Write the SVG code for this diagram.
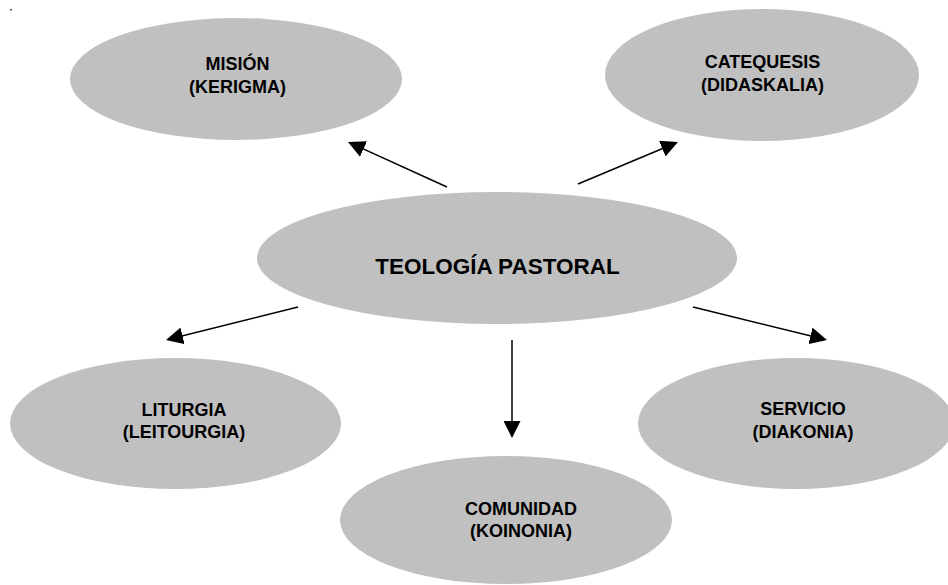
<svg xmlns="http://www.w3.org/2000/svg" width="948" height="585" viewBox="0 0 948 585">
<style>
.node ellipse{fill:#c0c0c0;stroke:none}
text{font-family:"Liberation Sans",Arial,sans-serif;font-weight:bold;fill:#000;text-anchor:middle}
.t{font-size:18px}
.tc{font-size:22.5px}
.conn path{stroke:#000;stroke-width:1.5;fill:none;marker-end:url(#ah)}
</style>
<defs>
<marker id="ah" viewBox="0 0 17 17" refX="10" refY="8.5" markerWidth="17" markerHeight="17" markerUnits="userSpaceOnUse" orient="auto">
<path d="M0,0 L17,8.5 L0,17 z" fill="#000"/>
</marker>
</defs>
<rect width="948" height="585" fill="#fff"/>
<rect x="10" y="9" width="2" height="1.5" fill="#555"/>
<g id="mision" class="node">
<ellipse cx="236" cy="79" rx="166" ry="61"/>
<text class="t" x="237.5" y="70">MISIÓN</text>
<text class="t" x="237.5" y="92.5">(KERIGMA)</text>
</g>
<g id="catequesis" class="node">
<ellipse cx="762" cy="75" rx="157" ry="66"/>
<text class="t" x="762.5" y="68">CATEQUESIS</text>
<text class="t" x="762.5" y="91">(DIDASKALIA)</text>
</g>
<g id="teologia" class="node">
<ellipse cx="497" cy="258" rx="240" ry="66"/>
<text class="tc" x="497.5" y="274">TEOLOGÍA PASTORAL</text>
</g>
<g id="liturgia" class="node">
<ellipse cx="175.5" cy="423.5" rx="165.5" ry="65.5"/>
<text class="t" x="184" y="416">LITURGIA</text>
<text class="t" x="184" y="438">(LEITOURGIA)</text>
</g>
<g id="servicio" class="node">
<ellipse cx="796" cy="423.5" rx="158" ry="65.5"/>
<text class="t" x="803" y="415">SERVICIO</text>
<text class="t" x="803" y="438">(DIAKONIA)</text>
</g>
<g id="comunidad" class="node">
<ellipse cx="506" cy="520" rx="166" ry="64"/>
<text class="t" x="521" y="515">COMUNIDAD</text>
<text class="t" x="521" y="537">(KOINONIA)</text>
</g>
<g id="connectors" class="conn">
<path d="M447,187 L354.4,144.9"/>
<path d="M578,184 L671.5,144.7"/>
<path d="M298,307 L172.8,338.3"/>
<path d="M693,307 L820.2,338.3"/>
<path d="M512,340 L512,431"/>
</g>
</svg>
